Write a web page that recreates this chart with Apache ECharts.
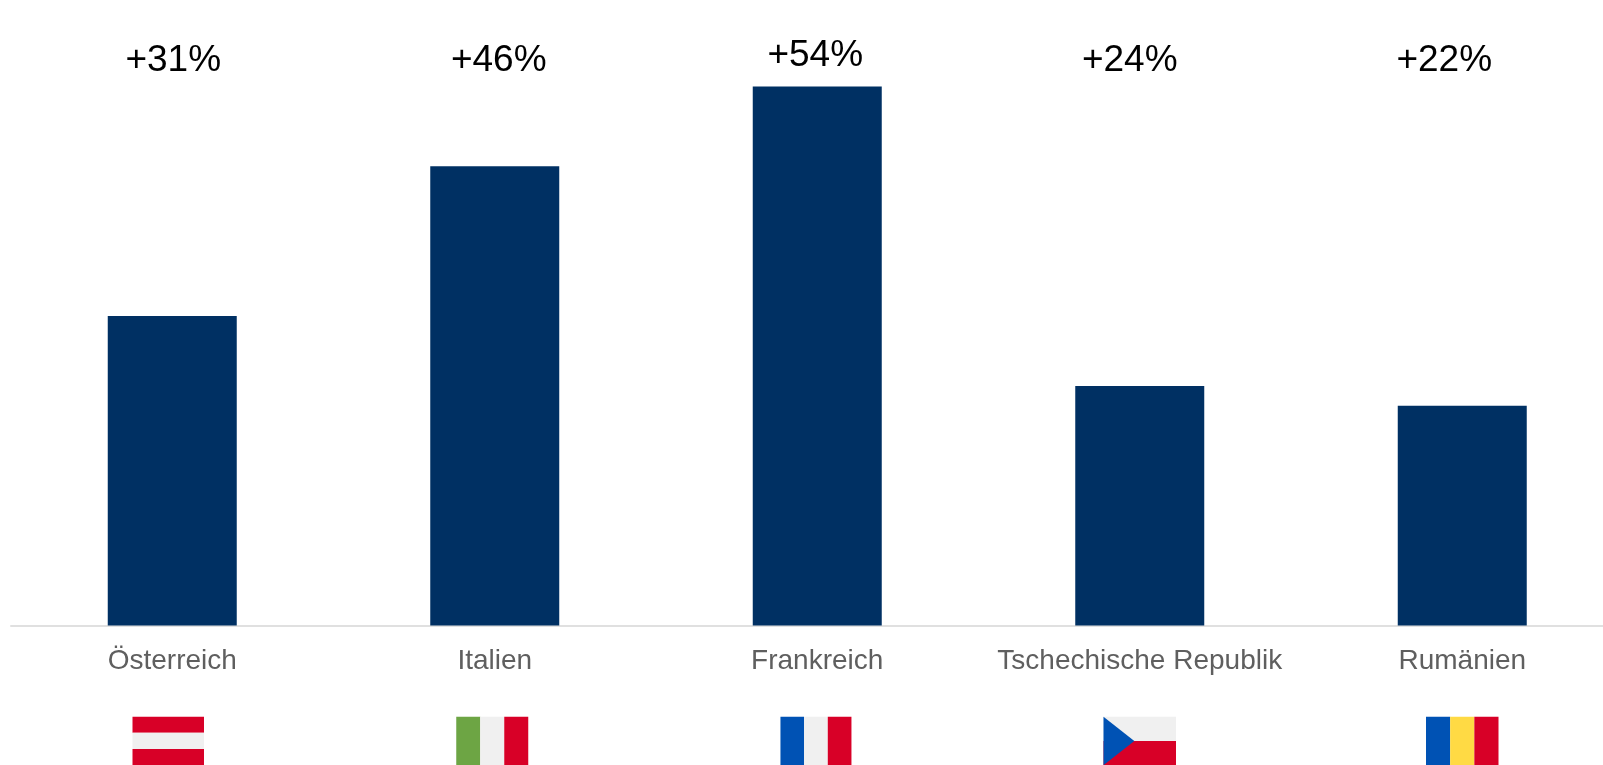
<!DOCTYPE html>
<html lang="de">
<head>
<meta charset="utf-8">
<title>Veränderung nach Land</title>
<script src="https://cdn.jsdelivr.net/npm/echarts@6/dist/echarts.min.js"></script>
<style>
  html, body { margin: 0; padding: 0; background: #fff; overflow: hidden; }
  #chart { width: 1603px; height: 765px; }
</style>
</head>
<body>
<div id="chart"></div>
<script>
// Chart data
const countries = ['Österreich', 'Italien', 'Frankreich', 'Tschechische Republik', 'Rumänien'];
const changePercent = [31, 46, 54, 24, 22];
const flagCodes = ['at', 'it', 'fr', 'cz', 'ro'];

// Flag palette and stripe layout
const RED = '#d80027', WHITE = '#f0f0f0', GREEN = '#6da544', BLUE = '#0052b4', YELLOW = '#ffda44';
const flagStripes = {
  at: { dir: 'h', colors: [RED, WHITE, RED] },
  it: { dir: 'v', colors: [GREEN, WHITE, RED] },
  fr: { dir: 'v', colors: [BLUE, WHITE, RED] },
  ro: { dir: 'v', colors: [BLUE, YELLOW, RED] }
};

// Per-column nudges, in pixels, relative to the category centre
const percentNudge = [[1, 0], [4, 0], [-2, -5], [-10, 0], [-18, 0]];
const flagNudge = [-4, -2.5, -1.3, 0, 0];
const flagWidth = [71.5, 72, 71, 72.5, 72.5];
const FLAG_TOP = 91.2, FLAG_HEIGHT = 48.5;
const PERCENT_ROW = 56.57;

function flagShapes(code, x, y, w, h) {
  if (code === 'cz') {
    return [
      { type: 'rect', shape: { x, y, width: w, height: h / 2 }, style: { fill: WHITE } },
      { type: 'rect', shape: { x, y: y + h / 2, width: w, height: h / 2 }, style: { fill: RED } },
      { type: 'polygon', shape: { points: [[x, y], [x + w * 0.425, y + h / 2], [x, y + h]] }, style: { fill: BLUE } }
    ];
  }
  const spec = flagStripes[code];
  return spec.colors.map((fill, i) => {
    const shape = spec.dir === 'h'
      ? { x, y: y + i * h / 3, width: w, height: h / 3 }
      : { x: x + i * w / 3, y, width: w / 3, height: h };
    return { type: 'rect', shape, style: { fill } };
  });
}

const chart = echarts.init(document.getElementById('chart'), null, { renderer: 'canvas' });
chart.setOption({
  animation: false,
  backgroundColor: '#ffffff',
  textStyle: { fontFamily: '"Liberation Sans", Arial, sans-serif' },
  grid: { left: 11, top: 26.5, width: 1612.5, height: 599, outerBoundsMode: 'none' },
  xAxis: {
    type: 'category',
    data: countries,
    axisTick: { show: false },
    axisLine: { lineStyle: { color: '#e0e0e0', width: 2 } },
    axisLabel: {
      interval: 0,
      margin: 22,
      hideOverlap: false,
      fontFamily: '"Liberation Sans", Arial, sans-serif',
      fontSize: 28,
      color: '#5f5f5f'
    }
  },
  yAxis: { type: 'value', min: 0, max: 60, show: false, splitLine: { show: false } },
  series: [
    {
      type: 'bar',
      data: changePercent,
      barWidth: '40%',
      itemStyle: { color: '#003063' }
    },
    {
      // Invisible anchors carrying the percentage row above the bars
      type: 'scatter',
      symbolSize: 1,
      itemStyle: { color: 'rgba(0,0,0,0)', opacity: 1 },
      data: changePercent.map((v, i) => ({
        value: [i, PERCENT_ROW],
        label: { offset: percentNudge[i] }
      })),
      label: {
        show: true,
        position: 'inside',
        fontFamily: '"Liberation Sans", Arial, sans-serif',
        fontSize: 37,
        color: '#000000',
        formatter: (p) => '+' + changePercent[p.dataIndex] + '%'
      }
    },
    {
      type: 'custom',
      clip: false,
      silent: true,
      data: flagCodes.map((c, i) => i),
      encode: { x: 0 },
      renderItem: (params, api) => {
        const i = api.value(0);
        const base = api.coord([i, 0]);
        const w = flagWidth[i];
        const x = base[0] + flagNudge[i] - w / 2;
        return { type: 'group', children: flagShapes(flagCodes[i], x, base[1] + FLAG_TOP, w, FLAG_HEIGHT) };
      }
    }
  ]
});
</script>
</body>
</html>
